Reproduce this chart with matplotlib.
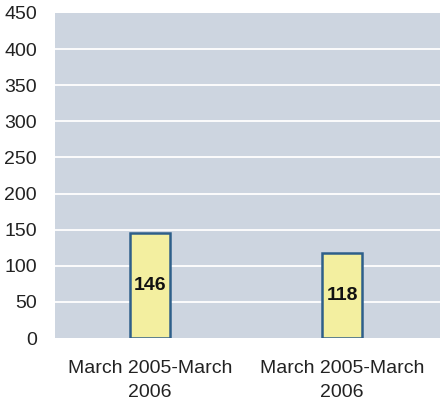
import matplotlib
matplotlib.use("Agg")
import matplotlib.pyplot as plt

categories = ["March 2005-March\n2006", "March 2005-March\n2006"]
values = [146, 118]
yticks = [0, 50, 100, 150, 200, 250, 300, 350, 400, 450]

plt.rcParams['font.family'] = ['Liberation Sans', 'DejaVu Sans']

fig = plt.figure(figsize=(4.45, 4.05), dpi=100)
ax = fig.add_axes([0.1236, 0.1654, 0.8652, 0.8026])
ax.set_facecolor('#cdd5e0')
x = list(range(len(categories)))
ax.bar(x, values, width=0.21, color='#f3efa0', edgecolor='#2e5f8a', linewidth=1.8, zorder=3)
for xi, v in zip(x, values):
    ax.text(xi, v / 2, str(v), ha='center', va='center', fontsize=14, fontweight='bold', color='#111111', zorder=4)
ax.set_ylim(0, 450)
ax.set_xlim(-0.495, 1.51)
ax.set_yticks(yticks)
ax.set_yticklabels([str(t) for t in yticks], fontsize=14, color='#222222')
ax.set_xticks(x)
ax.set_xticklabels(categories, fontsize=14, color='#222222', linespacing=1.55)
for t in yticks[1:-1]:
    ax.axhline(t, color='white', linewidth=1.3, zorder=1)
for s in ax.spines.values():
    s.set_visible(False)
ax.tick_params(axis='y', length=0, pad=13)
ax.tick_params(axis='x', length=0, pad=16)
fig.savefig('out.png', dpi=100)
